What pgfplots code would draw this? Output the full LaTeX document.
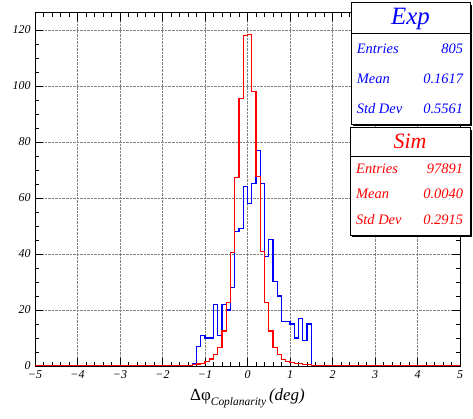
\documentclass[border=0pt]{standalone}
\usepackage{fontspec}
\setmainfont{Liberation Serif}
\usepackage{pgfplots}
\pgfplotsset{compat=1.18}
\definecolor{rblue}{rgb}{0,0,1}
\definecolor{rred}{rgb}{1,0,0}
\begin{document}
\begin{tikzpicture}
\useasboundingbox (0,0) rectangle (473bp,419bp);
\begin{axis}[
  at={(35bp,53bp)}, anchor=south west,
  scale only axis, width=425bp, height=353bp,
  xmin=-5, xmax=5, ymin=0, ymax=126,
  xtick={-5,-4,...,5},
  xticklabels={−5,−4,−3,−2,−1,0,1,2,3,4,5},
  ytick={0,20,...,120},
  minor x tick num=4, minor y tick num=3,
  tick align=inside,
  major tick length=8bp, minor tick length=4bp,
  tick style={black, line width=0.6pt},
  axis line style={line width=1pt},
  grid=major,
  major grid style={densely dotted, gray, line width=0.6pt},
  /pgf/number format/assume math mode=true,
  ticklabel style={font=\fontsize{12}{13}\selectfont\itshape},
  yticklabel style={xshift=-1bp},
  xticklabel style={yshift=-1bp},
  xlabel={\fontsize{17}{19}\selectfont Δφ\raisebox{-5bp}{\fontsize{11.5}{12}\selectfont\itshape Coplanarity}\,\itshape (deg)},
  xlabel style={yshift=-3bp},
]
\addplot[const plot, draw=rblue, line width=1.1pt] coordinates {
(-5,0) (-1.3,1) (-1.2,7) (-1.1,11) (-1.0,10) (-0.9,10) (-0.8,22) (-0.7,11)
(-0.6,22) (-0.5,20) (-0.4,28) (-0.3,48) (-0.2,49) (-0.1,64) (0,58) (0.1,65)
(0.2,77) (0.3,65) (0.4,39) (0.5,45) (0.6,30) (0.7,25) (0.8,16) (0.9,16)
(1.0,15) (1.1,10) (1.2,17) (1.3,9) (1.4,15) (1.5,0) (5,0)};
\addplot[const plot, draw=rred, line width=1.1pt] coordinates {
(-5,0) (-1.4,0.3) (-1.3,0.5) (-1.2,0.7) (-1.1,1.0) (-1.0,1.5) (-0.9,2.5)
(-0.8,4) (-0.7,6.6) (-0.6,12.5) (-0.5,22.6) (-0.4,40.6) (-0.3,67.2)
(-0.2,95.6) (-0.1,118) (0,118.3) (0.1,98) (0.2,67.6) (0.3,41) (0.4,22.6)
(0.5,12.5) (0.6,6.6) (0.7,4) (0.8,2.2) (0.9,1.5) (1.0,1.2) (1.1,0.9)
(1.2,0.8) (1.3,0.6) (1.4,0.5) (1.5,0.3) (1.6,0.2) (1.8,0.1) (2.0,0) (5,0)};
\end{axis}
% Exp stats box
\fill[black] (353bp,293bp) rectangle (472bp,414bp);
\filldraw[fill=white, draw=black, line width=0.8pt] (351bp,295bp) rectangle (470bp,416.3bp);
\draw[line width=0.8pt] (351bp,385.7bp) -- (470bp,385.7bp);
\node[anchor=base, text=rblue, font=\fontsize{25}{28}\selectfont\itshape, inner sep=0pt] at (410.5bp,394bp) {Exp};
\begin{scope}[every node/.style={inner sep=0pt, text=rblue, font=\fontsize{14.5}{16}\selectfont\itshape}]
\node[anchor=base west] at (356.7bp,365bp) {Entries};
\node[anchor=base east] at (463.3bp,365bp) {805};
\node[anchor=base west] at (356.7bp,335bp) {Mean};
\node[anchor=base east] at (463.3bp,335bp) {0.1617};
\node[anchor=base west] at (356.7bp,305bp) {Std Dev};
\node[anchor=base east] at (463.3bp,305bp) {0.5561};
\end{scope}
% Sim stats box
\fill[black] (352bp,182bp) rectangle (472bp,289.3bp);
\filldraw[fill=white, draw=black, line width=0.8pt] (350bp,184bp) rectangle (470bp,291.3bp);
\draw[line width=0.8pt] (350bp,263bp) -- (470bp,263bp);
\node[anchor=base, text=rred, font=\fontsize{22}{24}\selectfont\itshape, inner sep=0pt] at (410bp,270.7bp) {Sim};
\begin{scope}[every node/.style={inner sep=0pt, text=rred, font=\fontsize{14.5}{16}\selectfont\itshape}]
\node[anchor=base west] at (356bp,245bp) {Entries};
\node[anchor=base east] at (463.3bp,245bp) {97891};
\node[anchor=base west] at (356bp,220bp) {Mean};
\node[anchor=base east] at (463.3bp,220bp) {0.0040};
\node[anchor=base west] at (356bp,194bp) {Std Dev};
\node[anchor=base east] at (463.3bp,194bp) {0.2915};
\end{scope}
\end{tikzpicture}
\end{document}
